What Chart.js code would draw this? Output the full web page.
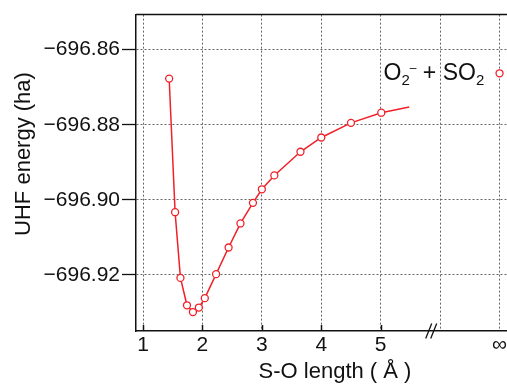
<!DOCTYPE html>
<html>
<head>
<meta charset="utf-8">
<script src="https://cdn.jsdelivr.net/npm/chart.js@4"></script>
<style>
html, body { margin: 0; padding: 0; background: #fff; overflow: hidden; }
</style>
</head>
<body>
<canvas id="pesChart" width="540" height="387"></canvas>
<script>
// S-O distance scan (last point is the curve end, drawn without marker)
const soLength = [1.44, 1.54, 1.63, 1.74, 1.84, 1.94, 2.04, 2.23, 2.44, 2.64, 2.85, 3.00, 3.21, 3.65, 4.00, 4.50, 5.01, 5.48];
const uhfEnergy = [-696.8677, -696.9033, -696.9208, -696.9281, -696.9299, -696.9287, -696.9262, -696.9198,
  -696.9127, -696.9063, -696.9008, -696.8972, -696.8935, -696.8872, -696.8834, -696.8795, -696.8768, -696.8753];

// separated fragments O2- + SO2, plotted at the "infinity" position
const infLength = [7];
const infEnergy = [-696.8663];

const xTicks = [1, 2, 3, 4, 5, 6, 7];
const xTickLabels = ["1", "2", "3", "4", "5", "", "\u221E"];
const xTickMarks = [true, true, true, true, true, false, false];
const yTicks = [-696.92, -696.90, -696.88, -696.86];
const axisBreakAt = 5.85;

const red = "rgb(240,32,40)";
const ink = "#111";
const family = "'Liberation Sans', Arial, sans-serif";

const extras = {
  id: "extras",
  afterDraw(chart) {
    const { ctx, chartArea: a, scales: { x, y } } = chart;
    ctx.save();
    ctx.strokeStyle = ink;
    ctx.lineWidth = 1.5;
    // top frame line
    ctx.beginPath();
    ctx.moveTo(a.left, a.top);
    ctx.lineTo(a.right, a.top);
    ctx.stroke();
    // inward x tick marks
    xTicks.forEach((v, i) => {
      if (!xTickMarks[i]) return;
      const px = Math.round(x.getPixelForValue(v)) + 0.5;
      ctx.beginPath();
      ctx.moveTo(px, a.bottom);
      ctx.lineTo(px, a.bottom - 6);
      ctx.stroke();
    });
    // axis break "//"
    const bx = x.getPixelForValue(axisBreakAt);
    ctx.lineWidth = 1.3;
    [-2.5, 2.5].forEach(dx => {
      ctx.beginPath();
      ctx.moveTo(bx + dx - 3, a.bottom + 7.5);
      ctx.lineTo(bx + dx + 3, a.bottom - 7.5);
      ctx.stroke();
    });
    // label next to the infinity point
    const px = x.getPixelForValue(infLength[0]);
    const base = y.getPixelForValue(infEnergy[0]) + 6.5;
    let cx = px - 116;
    ctx.fillStyle = ink;
    ctx.textBaseline = "alphabetic";
    ctx.textAlign = "left";
    const parts = [
      ["O", 23, 0], ["2", 15, 5], ["\u2012", 12, -8], [" + ", 23, 0], ["SO", 23, 0], ["2", 15, 5]
    ];
    parts.forEach(([t, size, dy]) => {
      ctx.font = size + "px " + family;
      ctx.fillText(t, cx, base + dy);
      cx += ctx.measureText(t).width;
    });
    // y axis title
    ctx.font = "22px " + family;
    ctx.textAlign = "center";
    ctx.textBaseline = "middle";
    ctx.translate(24, 154);
    ctx.rotate(-Math.PI / 2);
    ctx.fillText("UHF energy (ha)", 0, 0);
    ctx.restore();
  }
};

new Chart(document.getElementById("pesChart"), {
  type: "scatter",
  data: {
    datasets: [
      {
        data: soLength.map((v, i) => ({ x: v, y: uhfEnergy[i] })),
        showLine: true,
        borderColor: red,
        borderWidth: 1.5,
        backgroundColor: "#fff",
        pointBorderColor: red,
        pointBackgroundColor: "#fff",
        pointBorderWidth: 1.3,
        pointRadius: ctx => (ctx.dataIndex === soLength.length - 1 ? 0 : 3.5),
        tension: 0
      },
      {
        data: infLength.map((v, i) => ({ x: v, y: infEnergy[i] })),
        showLine: false,
        pointBorderColor: red,
        pointBackgroundColor: "#fff",
        pointBorderWidth: 1.3,
        pointRadius: 3.5
      }
    ]
  },
  options: {
    responsive: false,
    animation: false,
    layout: { padding: { top: 12, right: 6, left: 0, bottom: 0 } },
    plugins: { legend: { display: false }, tooltip: { enabled: false } },
    scales: {
      x: {
        type: "linear",
        min: 0.882,
        max: 7.58,
        afterBuildTicks: s => { s.ticks = xTicks.map(v => ({ value: v })); },
        afterFit: s => { s.height = 56; },
        ticks: {
          callback: v => xTickLabels[xTicks.indexOf(v)],
          font: { size: 21, family },
          color: ink,
          padding: 2,
          maxRotation: 0,
          autoSkip: false
        },
        grid: { color: "#666", lineWidth: 1, drawTicks: false },
        border: { color: ink, width: 1.5, dash: [2, 2] },
        title: {
          display: true,
          text: "S-O length ( \u00C5 )",
          font: { size: 22, family },
          color: ink,
          padding: { top: 0, bottom: 2 }
        }
      },
      y: {
        min: -696.93495,
        max: -696.85066,
        afterBuildTicks: s => { s.ticks = yTicks.map(v => ({ value: v })); },
        afterFit: s => { s.width = 136; },
        ticks: {
          callback: v => "\u2212" + Math.abs(v).toFixed(2),
          font: { size: 21, family },
          color: ink,
          padding: 2
        },
        grid: { color: "#666", lineWidth: 1, drawTicks: true, tickLength: 14, tickColor: ink, tickWidth: 1.3 },
        border: { color: ink, width: 1.5, dash: [2, 2] }
      }
    }
  },
  plugins: [extras]
});
</script>
</body>
</html>
